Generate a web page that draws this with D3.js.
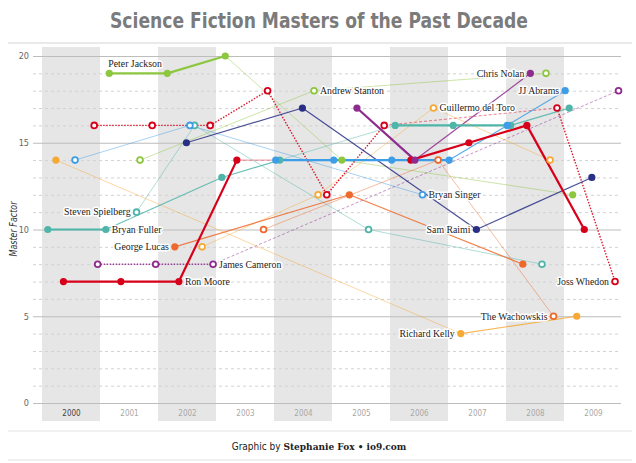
<!DOCTYPE html>
<html><head><meta charset="utf-8">
<script src="https://cdn.jsdelivr.net/npm/d3@7"></script>
<style>
html,body{margin:0;padding:0;background:#fff;}
svg{display:block;}
</style></head>
<body>
<svg id="chart" width="636" height="463"></svg>
<script>
// ---------- DATA ----------
const years = [2000,2001,2002,2003,2004,2005,2006,2007,2008,2009];
const yTicks = [0,5,10,15,20];
const directors = ["Peter Jackson","Andrew Stanton","Ron Moore","Joss Whedon","Bryan Fuller",
  "Steven Spielberg","Bryan Singer","JJ Abrams","Chris Nolan","James Cameron",
  "George Lucas","The Wachowskis","Guillermo del Toro","Richard Kelly","Sam Raimi"];
const releaseTimes = [
  [2001.16,2002.16,2003.16,2005.17,2009.15],
  [2001.69,2004.69,2008.69],
  [2000.37,2001.36,2002.36,2003.36,2006.36,2007.36,2008.36,2009.35],
  [2000.90,2001.90,2002.90,2003.89,2004.91,2005.90,2008.88,2009.88],
  [2000.10,2001.10,2003.10,2004.10,2006.09,2007.09,2008.08,2009.09],
  [2001.63,2002.63,2005.63,2008.62],
  [2000.57,2002.55,2006.56],
  [2004.03,2005.03,2006.03,2007.02,2008.02,2009.02],
  [2005.43,2006.43,2008.42],
  [2000.96,2001.96,2002.95,2009.94],
  [2002.29,2005.30,2008.29],
  [2003.82,2006.83,2008.82],
  [2002.76,2004.76,2006.75,2008.76],
  [2000.24,2007.22,2009.22],
  [2002.49,2004.49,2007.49,2009.48]
];
const masterFactor = [
  [19,19,20,14,12],
  [14,18,19],
  [7,7,7,14,14,15,16,10],
  [16,16,16,18,12,16,17,7],
  [10,10,13,14,16,16,16,17],
  [11,16,10,8],
  [14,16,12],
  [14,14,14,14,16,18],
  [17,14,19],
  [8,8,8,18],
  [9,12,8],
  [10,14,5],
  [9,12,17,14],
  [14,4,5],
  [15,17,10,13]
];
// ---------- STYLE ----------
const colors = ["#8dc63f","#8dc63f","#d7001b","#d7001b","#4fb5a9","#4fb5a9","#3d9de6","#3d9de6",
  "#8e2b8f","#8e2b8f","#ee6a2c","#ee6a2c","#f6a935","#f6a935","#2a2f86"];
const filled = [true,false,true,false,true,false,false,true,true,false,true,false,false,true,true];
const dotted = [false,false,false,true,false,false,false,false,false,true,false,false,false,false,false];
const segWeight = [
  [2,2,0,0],[0,0],[2,2,2,0,2,2,2],[1,1,1,1,1,0,1],[2,1,1,0,2,2,1],
  [0,0,0],[0,0],[2,2,2,1,1],[2,1],[1,1,0],[1,1],[0,0],[0,0,0],[0,1],[1,1,1]
];
const labelAt = [0,1,2,7,1,0,2,5,2,2,0,2,2,1,2];
const labelSide = ["top","right","right","left","right","left","right","left","left","right","left","left","right","left","left"];

// ---------- CHART ----------
const svg = d3.select("#chart");
const x = d3.scaleLinear().domain([2000,2010]).range([42,622]);
const y = d3.scaleLinear().domain([0,20]).range([403,56]);

// title
svg.append("text").attr("x",319).attr("y",28).attr("text-anchor","middle")
  .attr("font-family","'DejaVu Sans Condensed','DejaVu Sans',sans-serif").attr("font-stretch","condensed")
  .attr("font-weight","bold").attr("font-size",22).attr("fill","#7b7b7b")
  .attr("textLength",418).attr("lengthAdjust","spacingAndGlyphs")
  .text("Science Fiction Masters of the Past Decade");
svg.append("line").attr("x1",8).attr("x2",632).attr("y1",43).attr("y2",43).attr("stroke","#d4d4d4").attr("stroke-width",1);

// bands
svg.append("g").selectAll("rect").data(years.filter(d=>d%2===0)).join("rect")
  .attr("x",d=>x(d)).attr("width",d=>x(d+1)-x(d)).attr("y",47).attr("height",421-47)
  .attr("fill","#e6e6e6");

// gridlines
const grid = svg.append("g");
grid.selectAll("line").data(d3.range(0,21)).join("line")
  .attr("x1",33).attr("x2",621).attr("y1",d=>y(d)+0.5).attr("y2",d=>y(d)+0.5)
  .attr("stroke",d=>d%5===0?"#bdbdbd":"#d2d2d2")
  .attr("stroke-width",d=>d%5===0?1.2:1)
  .attr("stroke-dasharray",d=>d%5===0?null:"3,3");

// y axis
const yAxis = d3.axisLeft(y).tickValues(yTicks).tickSize(0).tickPadding(0);
const yg = svg.append("g").attr("transform","translate(29,0)").call(yAxis);
yg.select(".domain").remove();
yg.selectAll("text").attr("font-family","'DejaVu Sans Condensed','DejaVu Sans',sans-serif")
  .attr("font-size",9).attr("fill","#666");

// x axis labels
const xAxis = d3.axisBottom(x).tickValues(years.map(d=>d+0.5)).tickFormat(d=>String(Math.floor(d))).tickSize(0).tickPadding(0);
const xg = svg.append("g").attr("transform","translate(0,410)").call(xAxis);
xg.select(".domain").remove();
xg.selectAll("text").attr("font-family","'DejaVu Sans Condensed','DejaVu Sans',sans-serif")
  .attr("font-size",8).attr("fill",(d,i)=>i===0?"#444":"#a8a8a8");

// y title
svg.append("text").attr("transform","translate(17,229) rotate(-90)").attr("text-anchor","middle")
  .attr("font-family","'DejaVu Sans Condensed','DejaVu Sans',sans-serif").attr("font-style","italic")
  .attr("font-size",10.5).attr("fill","#333").attr("textLength",55).attr("lengthAdjust","spacingAndGlyphs")
  .text("Master Factor");

// lines
const weightW = [1,1.2,2.2], weightO = [0.45,0.85,1];
const segs = [];
directors.forEach((name,i)=>{
  const t = releaseTimes[i], v = masterFactor[i];
  for(let k=0;k<t.length-1;k++){
    segs.push({i, w:segWeight[i][k], a:[t[k],v[k]], b:[t[k+1],v[k+1]]});
  }
});
segs.sort((p,q)=>p.w-q.w);
const line = d3.line().x(d=>x(d[0])).y(d=>y(d[1]));
svg.append("g").selectAll("path").data(segs).join("path")
  .attr("d",s=>line([s.a,s.b])).attr("fill","none")
  .attr("stroke",s=>colors[s.i])
  .attr("stroke-width",s=>dotted[s.i]?(s.w>0?1.4:1):weightW[s.w])
  .attr("stroke-opacity",s=>dotted[s.i]?(s.w>0?0.9:0.5):weightO[s.w])
  .attr("stroke-dasharray",s=>dotted[s.i]?(s.w>0?"1.5,1.5":"3,2"):null);

// labels
const lab = svg.append("g").attr("font-family","'Liberation Serif','Times New Roman',serif")
  .attr("font-size",9.8).attr("fill","#222");
directors.forEach((name,i)=>{
  const k = labelAt[i];
  const px = x(releaseTimes[i][k]), py = y(masterFactor[i][k]);
  const side = labelSide[i];
  const tx = side==="top"? px-1 : side==="right"? px+6 : px-6;
  const ty = side==="top"? py-6 : py+3.3;
  lab.append("text").attr("x",tx).attr("y",ty)
    .attr("text-anchor",side==="left"?"end":"start")
    .attr("stroke","#fff").attr("stroke-width",3).attr("paint-order","stroke").attr("stroke-linejoin","round")
    .text(name);
});

// points
const pts = [];
directors.forEach((name,i)=>releaseTimes[i].forEach((t,k)=>pts.push({i,t,v:masterFactor[i][k]})));
svg.append("g").selectAll("circle").data(pts).join("circle")
  .attr("cx",d=>x(d.t)).attr("cy",d=>y(d.v))
  .attr("r",d=>filled[d.i]?3.6:2.9)
  .attr("fill",d=>filled[d.i]?colors[d.i]:"#fff")
  .attr("stroke",d=>filled[d.i]?"none":colors[d.i])
  .attr("stroke-width",1.8);

// footer
svg.append("line").attr("x1",8).attr("x2",632).attr("y1",431).attr("y2",431).attr("stroke","#e2e2e2");
svg.append("line").attr("x1",8).attr("x2",632).attr("y1",460).attr("y2",460).attr("stroke","#e2e2e2");
const ft = svg.append("text").attr("x",319).attr("y",450).attr("text-anchor","middle")
  .attr("font-size",10.5).attr("fill","#222");
ft.append("tspan").attr("font-family","'DejaVu Sans Condensed','DejaVu Sans',sans-serif").attr("font-size",10).text("Graphic by ");
ft.append("tspan").attr("font-family","'DejaVu Serif Condensed','DejaVu Serif',serif").attr("font-weight","bold").attr("font-size",10).text("Stephanie Fox \u2022 io9.com");
</script>
</body></html>
